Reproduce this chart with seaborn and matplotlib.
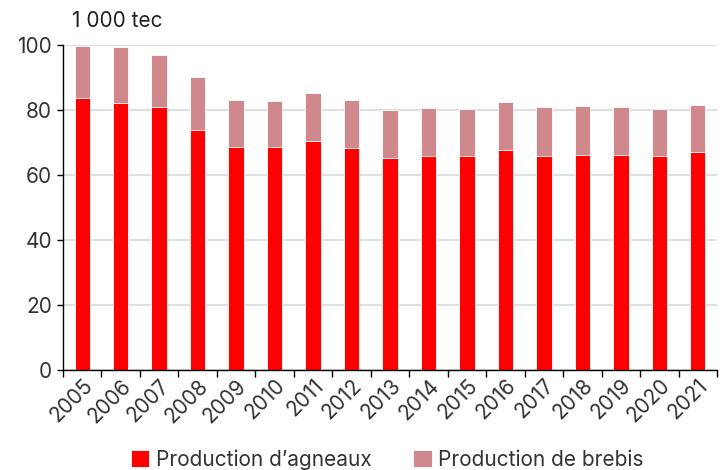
import matplotlib
matplotlib.use("Agg")
import matplotlib.pyplot as plt
import seaborn as sns
import pandas as pd
import numpy as np

years = ["2005", "2006", "2007", "2008", "2009", "2010", "2011", "2012", "2013",
         "2014", "2015", "2016", "2017", "2018", "2019", "2020", "2021"]
agneaux = [83.7, 82.2, 80.9, 73.9, 68.5, 68.7, 70.5, 68.3, 65.2,
           66.0, 65.8, 67.7, 65.8, 66.2, 66.2, 65.8, 67.1]
brebis = [16.0, 17.2, 15.9, 16.3, 14.5, 14.1, 14.8, 14.7, 14.7,
          14.5, 14.5, 14.9, 15.0, 15.1, 14.6, 14.4, 14.3]

label_a = "Production d\u2019agneaux"
label_b = "Production de brebis"
col_a = "#FF0000"
col_b = "#CF888C"

sns.set_theme(style="white")
plt.rcParams['font.family'] = ['Inter', 'DejaVu Sans']

df = pd.DataFrame({"year": years, "agneaux": agneaux, "brebis": brebis})
df["total"] = df["agneaux"] + df["brebis"]

fig = plt.figure(figsize=(7.22, 4.70), dpi=100)
ax = fig.add_axes([63/722, 1 - 370/470, (717-63)/722, 325/470])

sns.barplot(data=df, x="year", y="total", color=col_b, width=0.4, saturation=1,
            edgecolor="white", linewidth=0.6, ax=ax, label=label_b)
sns.barplot(data=df, x="year", y="agneaux", color=col_a, width=0.4, saturation=1,
            edgecolor="white", linewidth=0.6, ax=ax, label=label_a)

ax.set_ylim(0, 100)
ax.set_xlim(-0.5, len(years) - 0.5)
ax.set_yticks([0, 20, 40, 60, 80, 100])
ax.yaxis.grid(True, color="#D9D9D9", linewidth=1.2)
ax.set_axisbelow(True)
ax.set_xlabel("")
ax.set_ylabel("")
for s in ["top", "right"]:
    ax.spines[s].set_visible(False)
ax.spines["left"].set_color("black")
ax.spines["bottom"].set_color("black")
ax.spines["left"].set_linewidth(1)
ax.spines["bottom"].set_linewidth(1)

ax.set_xticks(range(len(years)))
ax.set_xticklabels(years, rotation=45, ha="right", rotation_mode="anchor",
                   fontsize=15, color="#333333")
ax.tick_params(axis="x", which="major", length=0, pad=4)
ax.set_xticks(np.arange(-0.5, len(years), 1.0), minor=True)
ax.tick_params(axis="x", which="minor", length=5, color="black", width=1, bottom=True)
ax.tick_params(axis="y", length=4, color="black", width=1, left=True,
               labelsize=15, labelcolor="#333333", pad=4)

fig.text(72/722, 1 - 21/470, "1 000 tec", fontsize=15, color="#222222", va="center")

handles, labels = ax.get_legend_handles_labels()
order = [labels.index(label_a), labels.index(label_b)]
ax.legend([handles[i] for i in order], [labels[i] for i in order],
          loc="center", bbox_to_anchor=(0.5 - 3/654, -0.275), ncol=2, frameon=False,
          fontsize=15, handlelength=0.9, handleheight=0.9, handletextpad=0.3,
          columnspacing=2.0, labelcolor="#333333")

fig.savefig("out.png", dpi=100)
